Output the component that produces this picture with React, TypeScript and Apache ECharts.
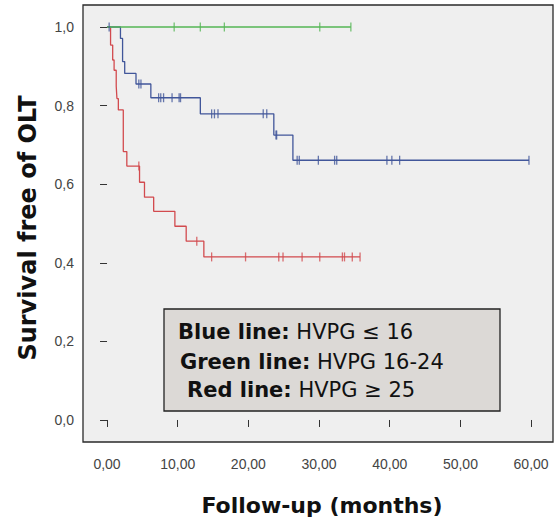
import React, { useEffect, useRef } from "react";
import * as echarts from "echarts";

// Kaplan-Meier steps (time in months, survival)
const greenTimes = [0, 34.5];
const greenSurv = [1, 1];
const greenCensor = [9.5, 13.2, 16.6, 30.1, 34.5];
const greenCensorSurv = [1, 1, 1, 1, 1];

const blueTimes = [0, 1.9, 2.2, 2.5, 4.1, 6.2, 13.2, 23.6, 26.3, 59.7];
const blueSurv = [1, 0.971, 0.912, 0.882, 0.855, 0.82, 0.779, 0.725, 0.661, 0.661];
const blueCensor = [0.3, 4.5, 4.8, 7.3, 7.6, 8.0, 9.2, 10.2, 10.4, 14.8, 15.2, 15.7, 22.1, 22.6, 23.9, 24.0, 26.9, 27.2, 29.9, 32.2, 32.5, 39.6, 40.3, 41.4, 59.7];
const blueCensorSurv = [1, 0.855, 0.855, 0.82, 0.82, 0.82, 0.82, 0.82, 0.82, 0.779, 0.779, 0.779, 0.779, 0.779, 0.725, 0.725, 0.661, 0.661, 0.661, 0.661, 0.661, 0.661, 0.661, 0.661, 0.661];

const redTimes = [0, 0.5, 0.8, 1.0, 1.3, 1.4, 1.6, 2.3, 2.8, 4.6, 5.3, 6.6, 9.6, 11.2, 13.7, 35.8];
const redSurv = [1, 0.954, 0.916, 0.89, 0.85, 0.818, 0.789, 0.683, 0.646, 0.605, 0.567, 0.531, 0.493, 0.455, 0.415, 0.415];
const redCensor = [4.5, 12.7, 14.8, 19.6, 24.3, 24.9, 27.6, 30.1, 33.3, 33.6, 34.7, 35.8];
const redCensorSurv = [0.646, 0.455, 0.415, 0.415, 0.415, 0.415, 0.415, 0.415, 0.415, 0.415, 0.415, 0.415];

const xTicks = [0, 10, 20, 30, 40, 50, 60];
const yTicks = [0, 0.2, 0.4, 0.6, 0.8, 1.0];

const xTitle = "Follow-up (months)";
const yTitle = "Survival free of OLT";
const legendLines = [
  { bold: "Blue line:", rest: " HVPG \u2264 16" },
  { bold: "Green line:", rest: " HVPG 16-24" },
  { bold: "Red line:", rest: " HVPG \u2265 25" },
];

const BLUE = "#41569a";
const GREEN = "#55b655";
const RED = "#d24a4e";
const TITLE_FONT = "'DejaVu Sans', sans-serif";

const zip = (a: number[], b: number[]) => a.map((v, i) => [v, b[i]]);

export default function App() {
  const ref = useRef<HTMLDivElement>(null);
  useEffect(() => {
    if (!ref.current) return;
    const chart = echarts.init(ref.current, null, { renderer: "svg" });
    const lineSeries = (name: string, t: number[], s: number[], color: string) => ({
      name,
      type: "line",
      step: "end",
      data: zip(t, s),
      showSymbol: false,
      symbol: "none",
      lineStyle: { color, width: 1.3 },
      z: 2,
    });
    const censorSeries = (name: string, t: number[], s: number[], color: string) => ({
      name,
      type: "scatter",
      data: zip(t, s),
      symbol: "rect",
      symbolSize: [1.3, 9],
      itemStyle: { color },
      z: 3,
    });
    const legendX = [178, 180, 187];
    const legendY = [332, 362, 390];
    chart.setOption({
      animation: false,
      backgroundColor: "#ffffff",
      grid: {
        left: 83,
        top: 5,
        right: 6,
        bottom: 85,
        show: true,
        backgroundColor: "#efefef",
        borderColor: "#2a2a2a",
        borderWidth: 1.3,
      },
      xAxis: {
        type: "value",
        min: -3.4,
        max: 63.1,
        splitLine: { show: false },
        axisLine: { show: false },
        axisTick: { show: true, customValues: xTicks, length: 7, lineStyle: { color: "#333" } },
        axisLabel: {
          customValues: xTicks,
          margin: 15,
          color: "#444",
          fontFamily: "'Liberation Sans', Arial, sans-serif",
          fontSize: 14,
          formatter: (v: number) => v.toFixed(2).replace(".", ","),
        },
      },
      yAxis: {
        type: "value",
        min: -0.056,
        max: 1.056,
        splitLine: { show: false },
        axisLine: { show: false },
        axisTick: { show: true, customValues: yTicks, length: 7, lineStyle: { color: "#333" } },
        axisLabel: {
          customValues: yTicks,
          margin: 9,
          color: "#444",
          fontFamily: "'Liberation Sans', Arial, sans-serif",
          fontSize: 14,
          formatter: (v: number) => v.toFixed(1).replace(".", ","),
        },
      },
      series: [
        lineSeries("red", redTimes, redSurv, RED),
        lineSeries("blue", blueTimes, blueSurv, BLUE),
        lineSeries("green", greenTimes, greenSurv, GREEN),
        censorSeries("redC", redCensor, redCensorSurv, RED),
        censorSeries("blueC", blueCensor, blueCensorSurv, BLUE),
        censorSeries("greenC", greenCensor, greenCensorSurv, GREEN),
      ],
      graphic: [
        {
          type: "text",
          x: 322,
          y: 505,
          style: {
            text: xTitle,
            font: `bold 22px ${TITLE_FONT}`,
            fill: "#111",
            textAlign: "center",
            textVerticalAlign: "middle",
          },
        },
        {
          type: "text",
          x: 28,
          y: 228,
          rotation: Math.PI / 2,
          style: {
            text: yTitle,
            font: `bold 24px ${TITLE_FONT}`,
            fill: "#111",
            textAlign: "center",
            textVerticalAlign: "middle",
          },
        },
        {
          type: "rect",
          shape: { x: 164, y: 309, width: 336, height: 102 },
          style: { fill: "#dcd9d6", stroke: "#222", lineWidth: 1.3 },
          z: 10,
        },
        ...legendLines.map((l, i) => ({
          type: "text",
          x: legendX[i],
          y: legendY[i],
          z: 11,
          style: {
            text: `{b|${l.bold}}{n|${l.rest}}`,
            rich: {
              b: { fontWeight: "bold", fontSize: 21, fontFamily: TITLE_FONT, fill: "#111" },
              n: { fontWeight: "normal", fontSize: 21, fontFamily: TITLE_FONT, fill: "#111" },
            },
            textAlign: "left",
            textVerticalAlign: "middle",
          },
        })),
      ],
    });
    return () => chart.dispose();
  }, []);
  return (
    <div
      ref={ref}
      style={{ position: "fixed", left: 0, top: 0, width: 559, height: 527 }}
    />
  );
}
